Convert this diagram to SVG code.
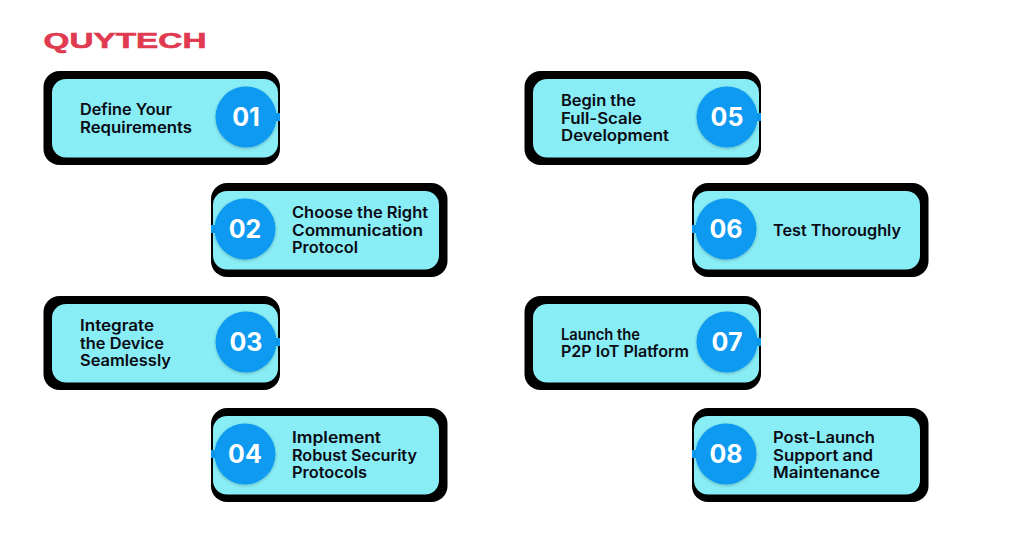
<svg xmlns="http://www.w3.org/2000/svg" width="1024" height="543" viewBox="0 0 1024 543">
<defs>
<filter id="sh" x="-20%" y="-20%" width="140%" height="140%"><feDropShadow dx="0" dy="1" stdDeviation="1.500" flood-color="#000" flood-opacity="0.250"/></filter>
<g id="cardR"><rect x="0.500" y="0" width="236.500" height="94" rx="16" fill="#000"/><rect x="9" y="8" width="226" height="78.500" rx="14" fill="#88edf5"/><rect x="231" y="42" width="6" height="8" fill="#0b9af0"/><circle cx="203" cy="46" r="30.500" fill="#0b9af0" filter="url(#sh)"/></g>
<g id="cardL"><rect x="0" y="0" width="236.500" height="94" rx="16" fill="#000"/><rect x="2" y="8" width="226" height="78.500" rx="14" fill="#88edf5"/><rect x="0" y="42" width="6" height="8" fill="#0b9af0"/><circle cx="34" cy="46" r="30.500" fill="#0b9af0" filter="url(#sh)"/></g>
</defs>
<style>
.t{font-family:"Inter","Noto Sans","Liberation Sans",sans-serif;font-size:15.500px;font-weight:600;fill:#0a0a14}
.n{font-family:"Inter","Noto Sans","Liberation Sans",sans-serif;font-size:25px;font-weight:700;fill:#fff;text-anchor:middle}
.logo{font-family:"Liberation Sans",sans-serif;font-size:22.500px;font-weight:700;fill:#e03a50;stroke:#e03a50;stroke-width:0.600px}
</style>
<rect width="1024" height="543" fill="#fff"/>
<g id="logo"><text class="logo" x="43.500" y="48" textLength="163" lengthAdjust="spacingAndGlyphs">QUYTECH</text></g>
<g id="connectors"></g>
<g id="node-01"><use href="#cardR" x="43" y="71"/><text class="t" x="80" y="115" textLength="92" lengthAdjust="spacingAndGlyphs">Define Your</text><text class="t" x="80" y="132.500" textLength="112" lengthAdjust="spacingAndGlyphs">Requirements</text><text class="n" x="246" y="126">01</text></g>
<g id="node-02"><use href="#cardL" x="211" y="183"/><text class="t" x="292" y="218" textLength="136" lengthAdjust="spacingAndGlyphs">Choose the Right</text><text class="t" x="292" y="235.500" textLength="131" lengthAdjust="spacingAndGlyphs">Communication</text><text class="t" x="292" y="253" textLength="66" lengthAdjust="spacingAndGlyphs">Protocol</text><text class="n" x="245" y="238">02</text></g>
<g id="node-03"><use href="#cardR" x="43" y="296"/><text class="t" x="80" y="331" textLength="74" lengthAdjust="spacingAndGlyphs">Integrate</text><text class="t" x="80" y="348.500" textLength="84" lengthAdjust="spacingAndGlyphs">the Device</text><text class="t" x="80" y="366" textLength="91" lengthAdjust="spacingAndGlyphs">Seamlessly</text><text class="n" x="246" y="351">03</text></g>
<g id="node-04"><use href="#cardL" x="211" y="408"/><text class="t" x="292" y="443" textLength="89" lengthAdjust="spacingAndGlyphs">Implement</text><text class="t" x="292" y="460.500" textLength="125" lengthAdjust="spacingAndGlyphs">Robust Security</text><text class="t" x="292" y="478" textLength="75" lengthAdjust="spacingAndGlyphs">Protocols</text><text class="n" x="245" y="463">04</text></g>
<g id="node-05"><use href="#cardR" x="524" y="71"/><text class="t" x="561" y="106" textLength="75" lengthAdjust="spacingAndGlyphs">Begin the</text><text class="t" x="561" y="123.500" textLength="81" lengthAdjust="spacingAndGlyphs">Full-Scale</text><text class="t" x="561" y="141" textLength="108" lengthAdjust="spacingAndGlyphs">Development</text><text class="n" x="727" y="126">05</text></g>
<g id="node-06"><use href="#cardL" x="692" y="183"/><text class="t" x="773" y="236" textLength="128" lengthAdjust="spacingAndGlyphs">Test Thoroughly</text><text class="n" x="726" y="238">06</text></g>
<g id="node-07"><use href="#cardR" x="524" y="296"/><text class="t" x="561" y="339.500" textLength="79" lengthAdjust="spacingAndGlyphs">Launch the</text><text class="t" x="561" y="357" textLength="128" lengthAdjust="spacingAndGlyphs">P2P IoT Platform</text><text class="n" x="727" y="351">07</text></g>
<g id="node-08"><use href="#cardL" x="692" y="408"/><text class="t" x="773" y="443" textLength="102" lengthAdjust="spacingAndGlyphs">Post-Launch</text><text class="t" x="773" y="460.500" textLength="100" lengthAdjust="spacingAndGlyphs">Support and</text><text class="t" x="773" y="478" textLength="107" lengthAdjust="spacingAndGlyphs">Maintenance</text><text class="n" x="726" y="463">08</text></g>
</svg>
